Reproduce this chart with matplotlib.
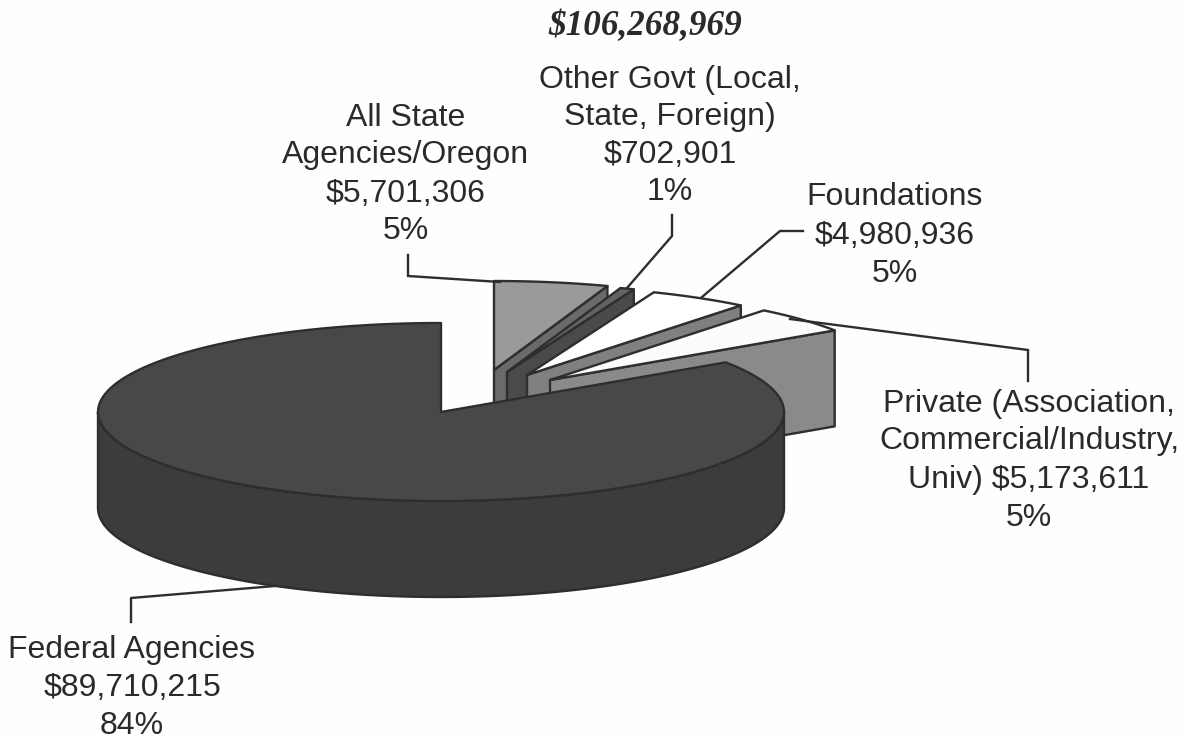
import numpy as np
import matplotlib
matplotlib.use("Agg")
import matplotlib.pyplot as plt

# ---- data ----
names = ["Federal Agencies", "Private", "Foundations", "Other Govt", "All State Agencies/Oregon"]
amounts = [89710215, 5173611, 4980936, 702901, 5701306]
total_label = "$106,268,969"

# ---- style per slice ----
top_colors = ["#484848", "#fcfcfc", "#ffffff", "#636363", "#9a9a9a"]
side_colors = ["#3c3c3c", "#8a8a8a", "#808080", "#4a4a4a", "#6a6a6a"]
apexes = [(441, 412), (550, 380), (527, 375), (507, 372), (494, 370)]
EDGE = "#2e2e2e"
RX, RY, DEPTH = 343, 89, 96

fig = plt.figure(figsize=(11.85, 7.39), dpi=100, facecolor="#fefefe")
ax = fig.add_axes([0, 0, 1, 1])
ax.set_xlim(0, 1185)
ax.set_ylim(739, 0)
ax.axis("off")

total = sum(amounts)
fracs = [a / total for a in amounts]
start = 90.0


def arc(apex, a1, a2, n=160):
    t = np.radians(np.linspace(a1, a2, n))
    return apex[0] + RX * np.cos(t), apex[1] - RY * np.sin(t)


# slices are laid out counter-clockwise from 12 o'clock, Federal first
ranges = []
a = start
for f in fracs:
    ranges.append((a, a + f * 360))
    a += f * 360


def draw_slice(i, z):
    a1, a2 = ranges[i]
    apex = apexes[i]
    kw = dict(edgecolor=EDGE, linewidth=1.7, joinstyle="round", zorder=z)
    # outer wall, only the part facing the viewer
    lo, hi = max(a1, 180), min(a2, 360)
    if hi > lo:
        x, y = arc(apex, lo, hi)
        ax.fill(np.r_[x, x[::-1]], np.r_[y, y[::-1] + DEPTH], facecolor=side_colors[i], **kw)
    # cut wall on the clockwise edge, for the pulled-out slices
    if i > 0:
        x, y = arc(apex, a1, a1, 2)
        px, py = x[0], y[0]
        ax.fill([apex[0], px, px, apex[0]], [apex[1], py, py + DEPTH, apex[1] + DEPTH],
                facecolor=side_colors[i], **kw)
    # top surface
    x, y = arc(apex, a1, a2)
    ax.fill(np.r_[apex[0], x], np.r_[apex[1], y], facecolor=top_colors[i], **kw)


# leader of the Federal label sits below the pie
ax.plot([131, 131, 275], [622, 598, 586], color=EDGE, lw=1.7, zorder=1)

for z, i in enumerate([4, 3, 2, 1, 0]):
    draw_slice(i, 2 + z)

leaders = [
    ([408, 408, 500], [255, 276, 282]),
    ([672, 672, 627], [215, 236, 288]),
    ([803, 780, 702], [231, 231, 297]),
    ([1028, 1028, 790], [381, 350, 319]),
]
for xs, ys in leaders:
    ax.plot(xs, ys, color=EDGE, lw=1.7, zorder=10, solid_joinstyle="miter")


def money(i):
    return f"${amounts[i]:,}"


def pct(i):
    return f"{round(fracs[i] * 100)}%"


labels = [
    (406, [126, 163, 202, 239], ["All State", "Agencies/Oregon", money(4), pct(4)]),
    (670, [88, 125, 163, 200], ["Other Govt (Local,", "State, Foreign)", money(3), pct(3)]),
    (895, [205, 244, 282], ["Foundations", money(2), pct(2)]),
    (1029, [412, 449, 488, 526], ["Private (Association,", "Commercial/Industry,",
                                  f"Univ) {money(1)}", pct(1)]),
    (132, [658, 696, 734], ["Federal Agencies", money(0), pct(0)]),
]
for cx, ys, lines in labels:
    for y, line in zip(ys, lines):
        ax.text(cx, y, line.replace("$", r"\$"), ha="center", va="baseline", fontsize=23,
                family="Liberation Sans", color="#2a2a2a", zorder=20)

ax.text(645, 35, total_label.replace("$", r"\$"), ha="center", va="baseline", fontsize=25.3,
        family="Liberation Serif", style="italic", weight="bold", color="#2a2a2a", zorder=20)

fig.savefig("out.png", dpi=100, facecolor=fig.get_facecolor())
